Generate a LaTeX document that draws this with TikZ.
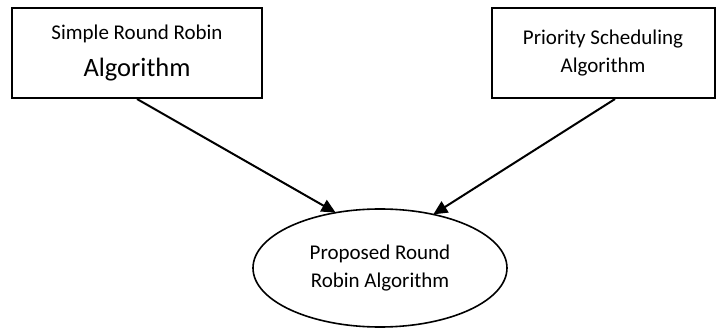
\documentclass[tikz,border=0pt]{standalone}
\usepackage{fontspec}
\setmainfont{Carlito}
\usetikzlibrary{arrows.meta,shapes.geometric}
\tikzset{
	algobox/.style={draw, line width=2pt, rectangle, align=center, inner sep=0pt},
	algoell/.style={draw, line width=1.6pt, ellipse, align=center, inner sep=0pt},
	feed/.style={line width=2pt, -{Triangle[length=14pt, width=13pt]}, shorten >=-1pt}
}
\newcommand{\txt}{\fontsize{21}{28}\selectfont}
\newcommand{\bigtxt}{\fontsize{26.5}{32}\selectfont}

\begin{document}
\begin{tikzpicture}[x=1pt, y=-1pt]
			%%%%% START %%%%%
			\useasboundingbox (0, 0) rectangle (716, 329);
			
			\node[algobox, minimum width=250pt, minimum height=90pt] (simple) at (137, 53)
				{\txt Simple Round Robin\\[15pt]\bigtxt Algorithm};
			\node[algobox, minimum width=223pt, minimum height=90pt] (prio) at (603, 53)
				{\txt Priority Scheduling\\[9pt]\txt Algorithm};
			
			\node[algoell, minimum width=254pt, minimum height=118pt] (prop) at (380, 268)
				{\txt Proposed Round\\[9pt]\txt Robin Algorithm};
			
			\draw[feed] (simple.south) -- (prop.129);
			\draw[feed] ([xshift=12pt]prio.south) -- (prop.45);
			%%%%% END %%%%%
		\end{tikzpicture}
\end{document}
